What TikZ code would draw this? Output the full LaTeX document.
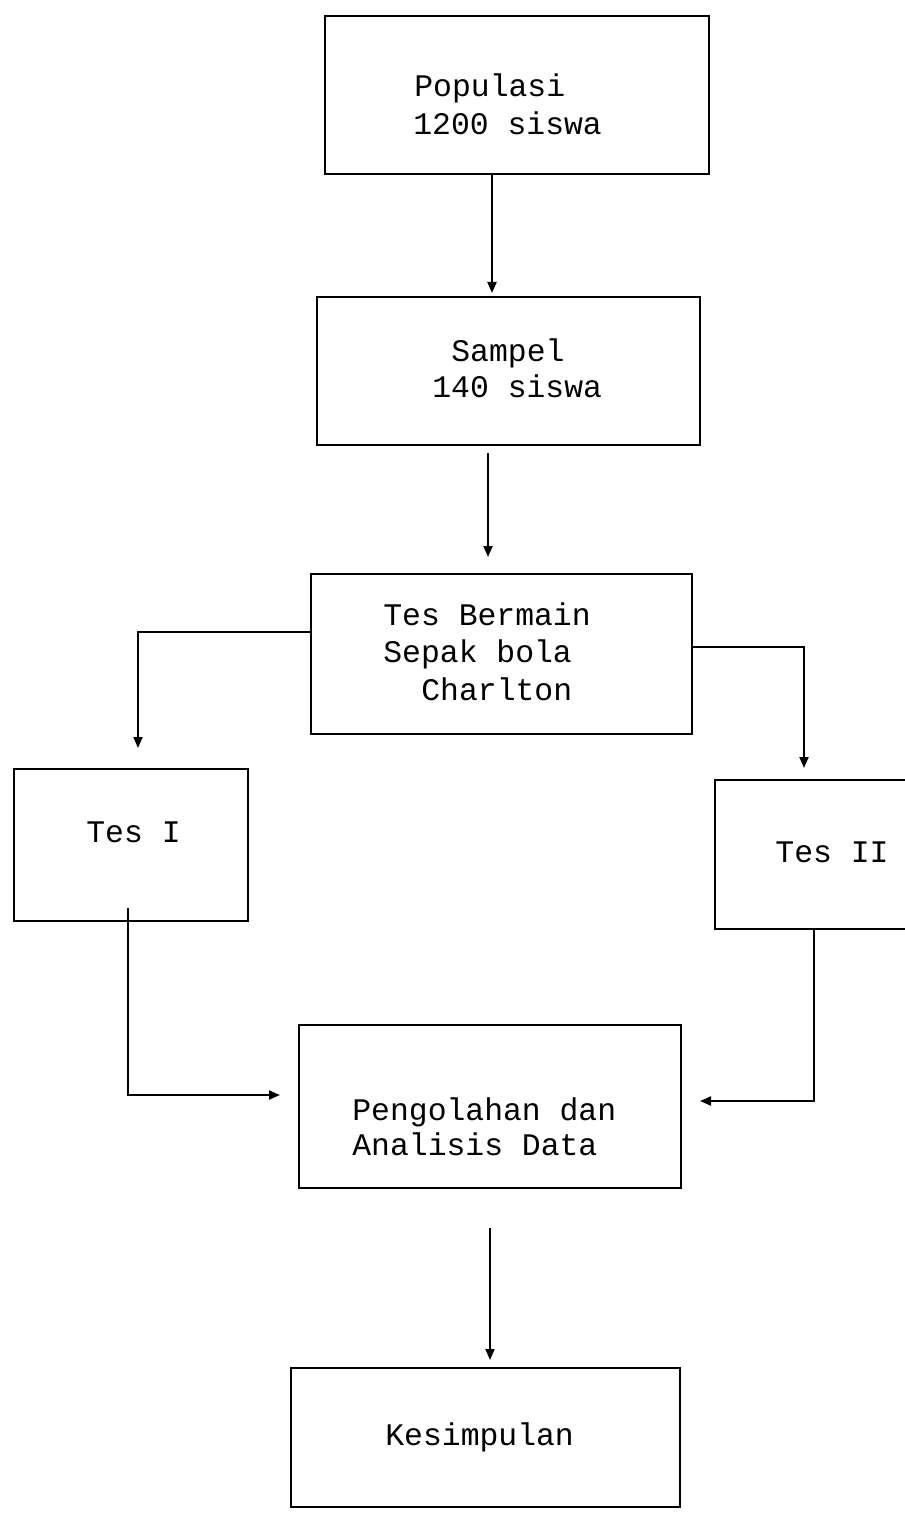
\documentclass[tikz,border=0pt]{standalone}
\usepackage{fontspec}
\setmonofont{Liberation Mono}
\usetikzlibrary{arrows.meta}
\begin{document}
\begin{tikzpicture}[x=0.5pt,y=-0.5pt,
  box/.style={draw, line width=1.4pt, rectangle, inner sep=0pt, outer sep=0pt},
  lbl/.style={anchor=base west, inner sep=0pt, font=\ttfamily\fontsize{15.7}{18}\selectfont},
  arr/.style={line width=1pt, -{Triangle[length=5.5pt,width=4.5pt]}},
  ln/.style={line width=1pt}]
\useasboundingbox (0,0) rectangle (904,1513);
% boxes
\node[box, minimum width=192pt, minimum height=79pt] (pop) at (517,95) {};
\node[box, minimum width=191.5pt, minimum height=74pt] (sam) at (508.5,371) {};
\node[box, minimum width=190.5pt, minimum height=80pt] (tes) at (501.5,654) {};
\node[box, minimum width=117pt, minimum height=76pt] (t1) at (131,845) {};
\node[box, minimum width=96.5pt, minimum height=74.5pt] (t2) at (811.5,854.5) {};
\node[box, minimum width=191pt, minimum height=81.5pt] (pen) at (490,1106.5) {};
\node[box, minimum width=194.5pt, minimum height=69.5pt] (kes) at (485.5,1437.5) {};
% texts
\node[lbl] (pop1) at (414,97) {Populasi};
\node[lbl] (pop2) at (413,135) {1200 siswa};
\node[lbl] (sam1) at (451,362) {Sampel};
\node[lbl] (sam2) at (432,398) {140 siswa};
\node[lbl] (tb1) at (383,625) {Tes Bermain};
\node[lbl] (tb2) at (383,662) {Sepak bola};
\node[lbl] (tb3) at (421,700) {Charlton};
\node[lbl] (t1l) at (86,842) {Tes I};
\node[lbl] (t2l) at (775,862) {Tes II};
\node[lbl] (pen1) at (352,1120) {Pengolahan dan};
\node[lbl] (pen2) at (352,1155) {Analisis Data};
\node[lbl] (kesl) at (385,1445) {Kesimpulan};
% connectors
\draw[arr, shorten >=2pt] ([xshift=-12.5pt]pop.south) -- ([xshift=-12.5pt]pop.south |- sam.north);
\draw[arr, shorten <=4pt, shorten >=8.5pt] ([xshift=-10.25pt]sam.south) -- ([xshift=-10.25pt]sam.south |- tes.north);
\draw[arr, shorten >=10.5pt] ([yshift=11pt]tes.west) -| ([xshift=3.5pt]t1.north);
\draw[arr, shorten >=6pt] ([yshift=3.5pt]tes.east) -| ([xshift=-3.75pt]t2.north);
\draw[arr, shorten >=9.5pt] ([xshift=-1.5pt,yshift=6.5pt]t1.south) |- ([yshift=5.75pt]pen.west);
\draw[arr, shorten >=9.5pt] ([xshift=1.25pt]t2.south) |- ([yshift=2.75pt]pen.east);
\draw[arr, shorten <=20pt, shorten >=4pt] (pen.south) -- (pen.south |- kes.north);
\end{tikzpicture}
\end{document}
